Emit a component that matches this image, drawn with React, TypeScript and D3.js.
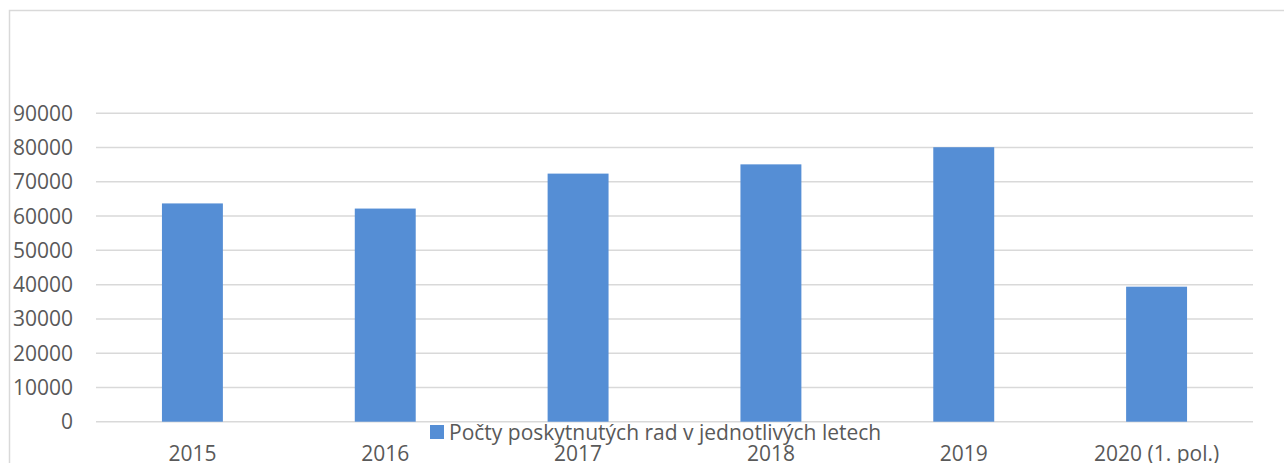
import React from "react";
import * as d3 from "d3";

const categories = ["2015", "2016", "2017", "2018", "2019", "2020 (1. pol.)"];
const values = [63700, 62200, 72400, 75100, 80100, 39400];
const yTicks = [0, 10000, 20000, 30000, 40000, 50000, 60000, 70000, 80000, 90000];
const seriesName = "Počty poskytnutých rad v jednotlivých letech";

const W = 1284;
const H = 463;
const FONT = "'Open Sans', sans-serif";
const TEXT = "#595959";
const GRID = "#d9d9d9";
const BAR = "#558ed5";
const FS = 21;

export default function App() {
  const x = d3
    .scaleBand<string>()
    .domain(categories)
    .range([96, 1253])
    .paddingInner(0.684)
    .paddingOuter(0.342);
  const y = d3.scaleLinear().domain([0, 90000]).range([421.7, 113.3]);

  return (
    <svg
      width={W}
      height={H}
      style={{ position: "absolute", left: 0, top: 0, background: "#fff" }}
      fontFamily={FONT}
    >
      <rect x={9.5} y={10.5} width={1400} height={600} fill="#fff" stroke={GRID} strokeWidth={1.5} />
      {yTicks.map((t) => (
        <g key={t}>
          <line x1={96} x2={1253} y1={y(t)} y2={y(t)} stroke={GRID} strokeWidth={1.5} />
          <text
            x={73}
            y={y(t)}
            dy="0.36em"
            textAnchor="end"
            fontSize={FS}
            fill={TEXT}
          >
            {t}
          </text>
        </g>
      ))}
      {categories.map((c, i) => (
        <rect
          key={c}
          x={x(c)}
          y={y(values[i])}
          width={x.bandwidth()}
          height={y(0) - y(values[i])}
          fill={BAR}
        />
      ))}
      {categories.map((c) => (
        <text
          key={c}
          x={(x(c) as number) + x.bandwidth() / 2}
          y={461}
          textAnchor="middle"
          fontSize={FS}
          fill={TEXT}
        >
          {c}
        </text>
      ))}
      <rect x={430} y={425} width={14} height={14} fill={BAR} />
      <text x={449} y={439.5} fontSize={FS} fill={TEXT}>
        {seriesName}
      </text>
    </svg>
  );
}
